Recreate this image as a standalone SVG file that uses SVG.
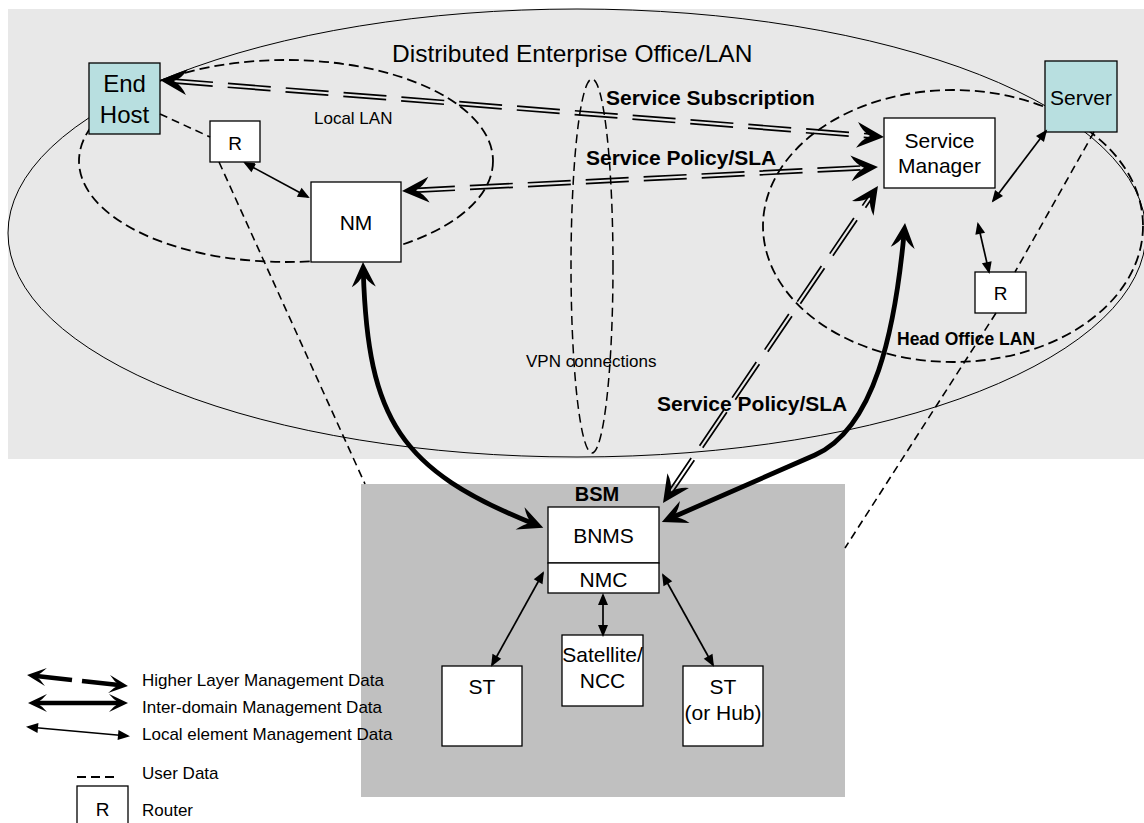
<svg xmlns="http://www.w3.org/2000/svg" width="1144" height="823" viewBox="0 0 1144 823">
<style>
text{font-family:"Liberation Sans",Arial,Helvetica,sans-serif;fill:#000}
.n{font-size:21px;text-anchor:middle}
.b{font-weight:bold}
.box{fill:#fff;stroke:#000;stroke-width:1.3}
.cy{fill:#b8dfe0;stroke:#000;stroke-width:1.3}
.ud{fill:none;stroke:#000;stroke-width:1.6;stroke-dasharray:8 5}
.lan{fill:none;stroke:#000;stroke-width:1.8;stroke-dasharray:10 5}
.dl{fill:none;stroke:#000;stroke-width:1.7;stroke-dasharray:43 15}
.ah{fill:none;stroke:none;marker-start:url(#barb);marker-end:url(#barb)}
.thick{fill:none;stroke:#000;stroke-width:4.8;marker-start:url(#barbM);marker-end:url(#barbM)}
.loc{fill:none;stroke:#000;stroke-width:1.7;marker-start:url(#tri);marker-end:url(#tri)}
.leg{font-size:17px}
</style>
<defs>
<marker id="barb" viewBox="-18 -14 30 28" refX="0" refY="0" markerWidth="30" markerHeight="28" markerUnits="userSpaceOnUse" orient="auto-start-reverse"><path d="M10,0 L-17,-13 Q-12,-4 -4,0 Q-12,4 -17,13 Z" fill="#000"/></marker>
<marker id="barbM" viewBox="-16 -13 27 26" refX="0" refY="0" markerWidth="27" markerHeight="26" markerUnits="userSpaceOnUse" orient="auto-start-reverse"><path d="M10,0 L-15,-12 Q-10,-4 -3,0 Q-10,4 -15,12 Z" fill="#000"/></marker>
<marker id="barbS" viewBox="-13 -10 21 20" refX="0" refY="0" markerWidth="21" markerHeight="20" markerUnits="userSpaceOnUse" orient="auto-start-reverse"><path d="M7,0 L-12,-9 Q-7,-3 -2,0 Q-7,3 -12,9 Z" fill="#000"/></marker>
<marker id="tri" viewBox="-11 -6 14 12" refX="0" refY="0" markerWidth="14" markerHeight="12" markerUnits="userSpaceOnUse" orient="auto-start-reverse"><path d="M2,0 L-10,-5 L-10,5 Z" fill="#000"/></marker>
</defs>

<!-- backgrounds -->
<rect x="8" y="9" width="1136" height="450" fill="#e8e8e8"/>
<rect id="bsm-area" x="361" y="484" width="484" height="313" fill="#c0c0c0"/>

<!-- regions -->
<g id="enterprise-lan">
<ellipse cx="577" cy="233" rx="569" ry="224" fill="none" stroke="#000" stroke-width="1"/>
<text x="392" y="62" font-size="24.5px">Distributed Enterprise Office/LAN</text>
</g>
<g id="local-lan">
<ellipse class="lan" cx="286" cy="161" rx="207" ry="101"/>
<text x="314" y="124" font-size="17px">Local LAN</text>
</g>
<g id="head-office-lan">
<ellipse class="lan" cx="953" cy="226" rx="190" ry="136"/>
<text x="897" y="345" font-size="17.5px" class="b">Head Office LAN</text>
</g>
<g id="vpn">
<ellipse cx="592" cy="266" rx="21" ry="187" fill="none" stroke="#000" stroke-width="1.5" stroke-dasharray="9 5"/>
<text x="526" y="367" font-size="17px">VPN connections</text>
</g>
<g id="bsm-label">
<text x="597" y="501" font-size="20px" class="b" text-anchor="middle">BSM</text>
</g>

<!-- nodes -->
<g id="end-host"><rect class="cy" x="89" y="63" width="71" height="71"/><text class="n" x="124.5" y="92" style="font-size:24px">End</text><text class="n" x="124.5" y="123" style="font-size:24px">Host</text></g>
<g id="router-local"><rect class="box" x="210" y="121" width="50" height="41"/><text class="n" x="235" y="150" style="font-size:19px">R</text></g>
<g id="nm"><rect class="box" x="311" y="182" width="90" height="80"/><text class="n" x="356" y="230">NM</text></g>
<g id="service-manager"><rect class="box" x="884" y="118" width="111" height="70"/><text class="n" x="939.5" y="148">Service</text><text class="n" x="939.5" y="173">Manager</text></g>
<g id="server"><rect class="cy" x="1045" y="61" width="72" height="71"/><text class="n" x="1081" y="105">Server</text></g>
<g id="router-head"><rect class="box" x="975" y="272" width="51" height="41"/><text class="n" x="1000.5" y="300" style="font-size:19px">R</text></g>
<g id="bnms"><rect class="box" x="548" y="507" width="111" height="56"/><text class="n" x="603.5" y="543">BNMS</text></g>
<g id="nmc"><rect class="box" x="548" y="563" width="111" height="30"/><text class="n" x="603.5" y="587">NMC</text></g>
<g id="st"><rect class="box" x="442" y="666" width="80" height="80"/><text class="n" x="482" y="694">ST</text></g>
<g id="satellite-ncc"><rect class="box" x="562" y="635" width="81" height="71"/><text class="n" x="602.5" y="662">Satellite/</text><text class="n" x="602.5" y="688">NCC</text></g>
<g id="st-hub"><rect class="box" x="683" y="666" width="80" height="80"/><text class="n" x="723" y="694">ST</text><text class="n" x="723" y="720">(or Hub)</text></g>

<!-- connectors -->
<g id="connectors">
<!-- user data -->
<line class="ud" x1="160" y1="114" x2="210" y2="137"/>
<line class="ud" x1="219" y1="162" x2="365" y2="484"/>
<line class="ud" x1="1094" y1="132" x2="1015" y2="272"/>
<line class="ud" x1="996" y1="313" x2="845" y2="548"/>
<!-- higher layer management -->
<g transform="translate(160 80) rotate(4.502)">
<path class="dl" d="M10,-1.9 H716.2 M10,1.9 H716.2"/>
<path class="ah" d="M10,0 H716.2"/>
</g>
<g transform="translate(402 191) rotate(-2.886)">
<path class="dl" d="M10,-1.9 H466.6 M10,1.9 H466.6"/>
<path class="ah" d="M10,0 H466.6"/>
</g>
<g transform="translate(663 503) rotate(-55.86)">
<path class="dl" d="M10,-1.9 H373 M10,1.9 H373"/>
<path class="ah" d="M10,0 H373"/>
</g>
<text x="606" y="105" font-size="21px" class="b">Service Subscription</text>
<text x="586" y="165" font-size="21px" class="b">Service Policy/SLA</text>
<text x="657" y="411" font-size="21px" class="b">Service Policy/SLA</text>
<!-- inter-domain -->
<path class="thick" d="M363.3,272 C368,420 400,470 534,524"/>
<path class="thick" d="M904.1,233 C895,330 875,428 815,455 L671,518"/>
<!-- local element -->
<line class="loc" x1="245" y1="163" x2="308" y2="197"/>
<line class="loc" x1="993" y1="201" x2="1046" y2="131"/>
<line class="loc" x1="978" y1="224" x2="989" y2="272"/>
<line class="loc" x1="543" y1="573" x2="492" y2="665"/>
<line class="loc" x1="603" y1="595" x2="603" y2="635"/>
<line class="loc" x1="663" y1="575" x2="713" y2="665"/>
</g>

<!-- legend -->
<g id="legend">
<path d="M34,675.7 L72,680" fill="none" stroke="#000" stroke-width="4.5" marker-start="url(#barbS)"/>
<path d="M82,681 L121,685.3" fill="none" stroke="#000" stroke-width="4.5" marker-end="url(#barbS)"/>
<text class="leg" x="142" y="686">Higher Layer Management Data</text>
<path d="M35,703 L121,703" fill="none" stroke="#000" stroke-width="4.5" marker-start="url(#barbS)" marker-end="url(#barbS)"/>
<text class="leg" x="142" y="713">Inter-domain Management Data</text>
<line class="loc" x1="28" y1="727" x2="128" y2="736"/>
<text class="leg" x="142" y="740">Local element Management Data</text>
<line x1="77" y1="777" x2="115" y2="777" stroke="#000" stroke-width="2" stroke-dasharray="9 5"/>
<text class="leg" x="142" y="779">User Data</text>
<rect class="box" x="77" y="786" width="51" height="45"/>
<text class="n" x="102.5" y="816" style="font-size:19px">R</text>
<text class="leg" x="142" y="816">Router</text>
</g>
</svg>
